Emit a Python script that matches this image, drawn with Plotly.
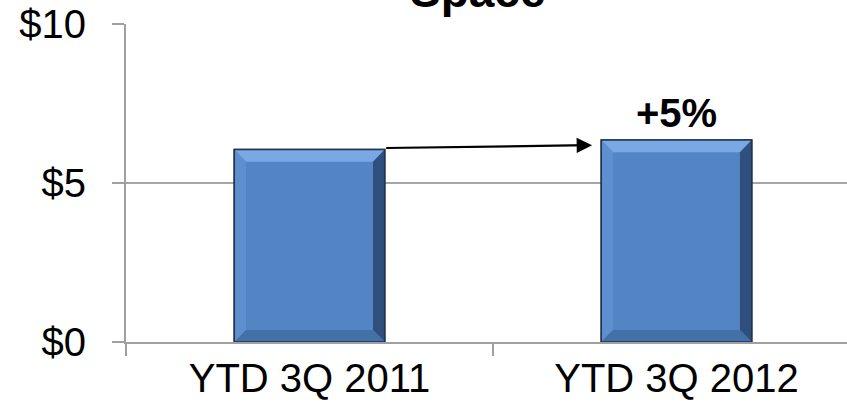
import plotly.graph_objects as go

# Data
categories = ["YTD 3Q 2011", "YTD 3Q 2012"]
values = [6.05, 6.35]
y_ticks = [0, 5, 10]
y_tick_labels = ["$0", "$5", "$10"]
title_text = "Space"

FONT = "Liberation Sans, Arial, sans-serif"
BAR_W = 0.41
FACE = "#5384C4"
OUTLINE = "#22344F"

fig = go.Figure()
fig.add_trace(go.Bar(
    x=categories, y=values, width=BAR_W,
    marker=dict(color=FACE, line=dict(color=OUTLINE, width=1.5)),
    hoverinfo="skip",
))

# Bevel facets drawn on top of each bar (data coordinates)
bx = 0.032   # horizontal bevel depth (category units)
by = 0.38    # vertical bevel depth (value units)
shapes = []
for i, v in enumerate(values):
    x0, x1 = i - BAR_W / 2, i + BAR_W / 2
    facets = [
        # top
        ([(x0, v), (x1, v), (x1 - bx, v - by), (x0 + bx, v - by)], "#7AA8E4"),
        # left
        ([(x0, v), (x0 + bx, v - by), (x0 + bx, by), (x0, 0)], "#5E8FCF"),
        # right
        ([(x1, v), (x1 - bx, v - by), (x1 - bx, by), (x1, 0)], "#2F4F7E"),
        # bottom
        ([(x0, 0), (x0 + bx, by), (x1 - bx, by), (x1, 0)], "#4470A8"),
    ]
    for pts, col in facets:
        path = "M " + " L ".join(f"{px},{py}" for px, py in pts) + " Z"
        shapes.append(dict(type="path", path=path, xref="x", yref="y",
                           fillcolor=col, line=dict(width=0), layer="above"))
    # crisp outline over the facets
    shapes.append(dict(type="rect", xref="x", yref="y", x0=x0, x1=x1, y0=0, y1=v,
                       line=dict(color=OUTLINE, width=1.5), layer="above"))

growth = round((values[1] / values[0] - 1) * 100)

annotations = [
    # growth arrow between the two bars
    dict(x=1 - BAR_W / 2 - 0.025, y=(values[0] + values[1]) / 2 - 0.01,
         ax=BAR_W / 2, ay=values[0] + 0.05,
         xref="x", yref="y", axref="x", ayref="y",
         showarrow=True, arrowhead=2, arrowsize=1.4, arrowwidth=2.2,
         arrowcolor="black", text=""),
    # growth label
    dict(x=1, y=values[1], xref="x", yref="y", yanchor="bottom", yshift=3,
         text=f"<b>+{growth}%</b>", showarrow=False,
         font=dict(family=FONT, size=40, color="black")),
    # chart title (sits mostly above the page top)
    dict(x=0.488, y=1.0, xref="paper", yref="paper", yanchor="bottom", yshift=5,
         text=f"<b>{title_text}</b>", showarrow=False,
         font=dict(family=FONT, size=46, color="black")),
]

fig.update_layout(
    width=847, height=409,
    margin=dict(l=126, r=0, t=24, b=67),
    paper_bgcolor="white", plot_bgcolor="white",
    showlegend=False,
    shapes=shapes,
    annotations=annotations,
    font=dict(family=FONT, size=40, color="black"),
)
fig.update_xaxes(
    type="category", range=[-0.5, 1.4646],
    showline=True, linecolor="#A0A0A0", linewidth=2,
    ticks="outside", tickson="boundaries", ticklen=12, tickwidth=2, tickcolor="#A0A0A0",
    showgrid=False, tickfont=dict(family=FONT, size=40, color="black"),
)
fig.update_yaxes(
    range=[0, 10], tickvals=y_ticks, ticktext=y_tick_labels,
    showline=True, linecolor="#A0A0A0", linewidth=2,
    ticks="outside", ticklen=12, tickwidth=2, tickcolor="#A0A0A0",
    showgrid=True, gridcolor="#A6A6A6", gridwidth=2,
    zeroline=False, ticklabelstandoff=18,
    tickfont=dict(family=FONT, size=40, color="black"),
)

fig.write_html("out.html")
